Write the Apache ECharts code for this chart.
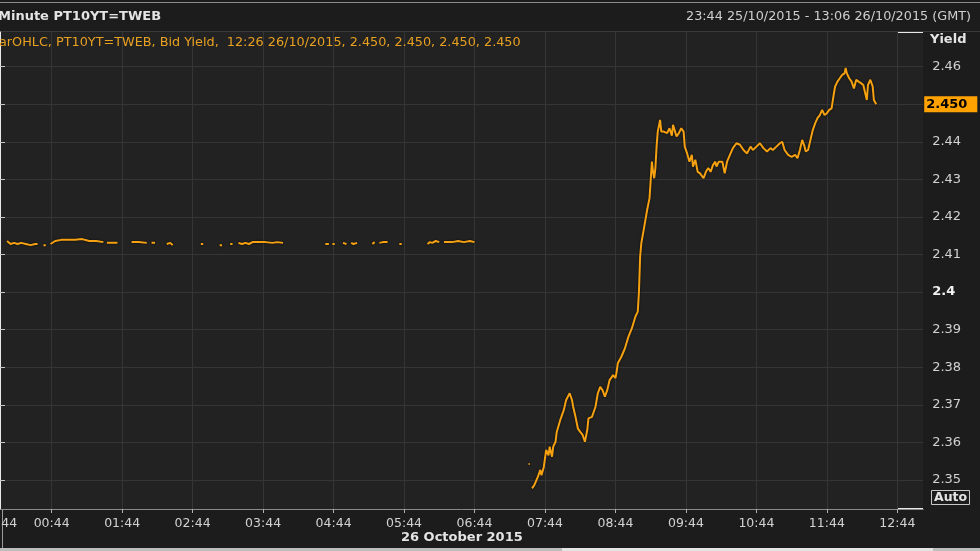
<!DOCTYPE html>
<html><head><meta charset="utf-8">
<script src="https://cdn.jsdelivr.net/npm/echarts@6/dist/echarts.min.js"></script>
<style>html,body{margin:0;padding:0;background:#1c1c1c;}#c{width:980px;height:551px;}</style>
</head><body><div id="c"></div>
<script>
// ---- data (GMT, 25/10/2015 23:44 -> 26/10/2015 13:06) ----
const rangeStart = '23:44';
const rangeEnd = '13:06';
const lastTime = '12:26';
const lastValue = 2.450;

// overnight sparse prints (null = no trades)
const overnightTimes = ['00:06','00:09','00:12','00:15','00:18','00:22','00:26','00:30','00:32','00:34','00:37','00:39','00:41',
 '00:43','00:47','00:52','00:58','01:04','01:10','01:16','01:22','01:28','01:29','01:31','01:35','01:40','01:46',
 '01:52','01:58','02:05','02:07','02:09','02:12','02:17','02:22','02:25','02:27','02:40','02:51','02:53','03:00',
 '03:07','03:09','03:12','03:16','03:18','03:20','03:23','03:26','03:29','03:32','03:35','03:40','03:46','03:52','03:56','04:01','04:20',
 '04:37','04:40','04:41','04:43','04:45','04:48','04:52','04:55','04:57','04:59','05:01','05:04','05:10',
 '05:17','05:19','05:21','05:23','05:26','05:30','05:35','05:40','05:42','05:52',
 '06:04','06:06','06:08','06:11','06:14','06:16','06:18','06:21','06:25','06:30','06:35','06:40','06:44','07:00',
 '07:30','07:31','07:32'];
const overnightYields = [2.4136,2.4128,2.4131,2.4128,2.4131,2.4128,2.4125,2.4128,2.4128,null,2.4125,2.4125,null,
 2.4128,2.4136,2.4139,2.4139,2.4139,2.4141,2.4136,2.4136,2.4133,null,2.4131,2.4131,2.4131,null,
 2.4133,2.4133,2.4131,null,2.4131,2.4131,null,2.4128,2.4131,2.4125,null,2.4128,2.4128,null,
 2.4125,2.4125,null,2.4128,2.4128,null,2.4131,2.4128,2.4131,2.4128,2.4133,2.4133,2.4133,2.4131,2.4133,2.4131,null,
 2.4128,2.4128,null,2.4128,2.4128,null,2.4131,2.4128,null,2.4131,2.4128,2.4131,null,
 2.4128,2.4133,null,2.4131,2.4133,2.4133,null,2.4128,2.4128,null,
 2.4128,2.4133,2.4131,2.4136,2.4133,null,2.4133,2.4133,2.4133,2.4136,2.4133,2.4136,2.4133,null,
 2.3543,2.3543,null];

// European session
const sessionTimes = ['07:33','07:35','07:38','07:40','07:41','07:43','07:45','07:47','07:48','07:50','07:51','07:53','07:54','07:57',
 '08:00','08:02','08:05','08:07','08:08','08:10','08:12','08:14','08:16','08:18','08:20','08:21','08:24','08:25','08:27','08:29',
 '08:31','08:33','08:35','08:37','08:39','08:42','08:44','08:45','08:46','08:49','08:52','08:55','08:58',
 '09:01','09:03','09:04','09:05','09:06','09:08','09:11','09:13','09:14','09:15','09:16','09:17','09:18','09:19','09:20','09:22','09:23',
 '09:25','09:28','09:30','09:32','09:33','09:36','09:38','09:40','09:42','09:43','09:45','09:47','09:49','09:50','09:52','09:54','09:56','09:59',
 '10:01','10:03','10:05','10:07','10:09','10:10','10:12','10:15','10:17','10:19','10:22','10:24','10:27','10:30','10:33','10:36','10:39',
 '10:41','10:44','10:47','10:50','10:53','10:56','10:58','11:01','11:04','11:06','11:08','11:11','11:14','11:17','11:19','11:21','11:23',
 '11:25','11:26','11:28','11:30','11:32','11:34','11:36','11:38','11:40','11:42','11:44','11:46','11:48','11:50','11:51','11:53','11:55',
 '11:57','11:59','12:00','12:01','12:03','12:05','12:07','12:09','12:11','12:13','12:15','12:16','12:18','12:19','12:21','12:23','12:24','12:26'];
const sessionYields = [2.3478,2.3487,2.3509,2.3527,2.3513,2.3535,2.3580,2.3566,2.3589,2.3562,2.3589,2.3602,2.3628,2.3660,
 2.3686,2.3713,2.3731,2.3713,2.3695,2.3668,2.3637,2.3628,2.3620,2.3602,2.3633,2.3664,2.3668,2.3677,2.3695,2.3731,
 2.3748,2.3739,2.3722,2.3739,2.3766,2.3779,2.3771,2.3788,2.3811,2.3828,2.3850,2.3881,2.3904,
 2.3935,2.3948,2.4001,2.4094,2.4130,2.4165,2.4219,2.4250,2.4298,2.4347,2.4320,2.4303,2.4330,2.4387,2.4427,2.4458,2.4427,
 2.4427,2.4423,2.4436,2.4416,2.4445,2.4414,2.4423,2.4436,2.4427,2.4387,2.4369,2.4347,2.4365,2.4334,2.4352,2.4320,2.4316,2.4303,
 2.4320,2.4330,2.4320,2.4338,2.4347,2.4334,2.4347,2.4347,2.4316,2.4347,2.4369,2.4383,2.4396,2.4392,2.4378,2.4369,2.4387,
 2.4378,2.4387,2.4396,2.4383,2.4374,2.4383,2.4378,2.4387,2.4396,2.4400,2.4378,2.4365,2.4360,2.4365,2.4356,2.4378,2.4405,
 2.4387,2.4374,2.4378,2.4405,2.4431,2.4449,2.4463,2.4471,2.4485,2.4471,2.4476,2.4485,2.4489,2.4529,2.4547,2.4560,2.4569,
 2.4578,2.4582,2.4596,2.4582,2.4569,2.4560,2.4542,2.4565,2.4560,2.4556,2.4551,2.4556,2.4511,2.4551,2.4565,2.4547,2.4511,2.4500];

const xTickLabels = ['23:44','00:44','01:44','02:44','03:44','04:44','05:44','06:44','07:44','08:44','09:44','10:44','11:44','12:44'];
const yTickValues = [2.35,2.36,2.37,2.38,2.39,2.40,2.41,2.42,2.43,2.44,2.45,2.46];
const yTickLabelValues = [2.35,2.36,2.37,2.38,2.39,2.40,2.41,2.42,2.43,2.44,2.46];
const yMin = 2.3423, yMax = 2.4692;

// ---- helpers ----
function toMin(s){ const p = s.split(':').map(Number); let v = p[0]*60 + p[1]; if (v > 1000) v -= 1440; return v; }
function fmtMin(v){ const m = ((Math.round(v) % 1440) + 1440) % 1440; const h = Math.floor(m/60), mm = m % 60; return String(h).padStart(2,'0') + ':' + String(mm).padStart(2,'0'); }

const allTimes = overnightTimes.concat(sessionTimes);
const allYields = overnightYields.concat(sessionYields);
const seriesData = allTimes.map((t,i) => [toMin(t), allYields[i]]);
const xMin = toMin(rangeStart), xMax = toMin(rangeEnd);
const xTicks = xTickLabels.map(toMin);

const FONT = 'DejaVu Sans';
const legendText = 'arOHLC, PT10YT=TWEB, Bid Yield,  ' + lastTime + ' 26/10/2015, ' +
  [lastValue,lastValue,lastValue,lastValue].map(v => v.toFixed(3)).join(', ');

const chart = echarts.init(document.getElementById('c'), null, {renderer:'canvas'});
chart.setOption({
  backgroundColor: '#1c1c1c',
  animation: false,
  textStyle: {fontFamily: FONT},
  title: [
    {text: 'Minute PT10YT=TWEB', left: -2, top: 10, padding: 0,
     textStyle: {color:'#e4e4e4', fontSize: 13, fontWeight:'bold', fontFamily: FONT}},
    {text: rangeStart + ' 25/10/2015 - ' + rangeEnd + ' 26/10/2015 (GMT)', right: 9, top: 10, padding: 0,
     textStyle: {color:'#cfcfcf', fontSize: 12.8, fontWeight:'normal', fontFamily: FONT}},
    {text: legendText, left: -1, top: 36, padding: 0,
     textStyle: {color:'#e8a020', fontSize: 12.8, fontWeight:'normal', fontFamily: FONT}},
    {text: 'Yield', left: 930, top: 33, padding: 0,
     textStyle: {color:'#e4e4e4', fontSize: 13, fontWeight:'bold', fontFamily: FONT}},
    {text: 'Auto', left: 931, top: 490, padding: [1,3,1,3], borderColor:'#c8c8c8', borderWidth: 1,
     textStyle: {color:'#e4e4e4', fontSize: 12.5, fontWeight:'bold', fontFamily: FONT}},
    {text: '26 October 2015', left: 401, top: 531, padding: 0,
     textStyle: {color:'#e4e4e4', fontSize: 13, fontWeight:'bold', fontFamily: FONT}}
  ],
  grid: {left: -18.8, right: 56.8, top: 32, bottom: 42, show: true, backgroundColor: '#222222', borderWidth: 0,
         containLabel: false, outerBoundsMode: 'none'},
  xAxis: {
    type: 'value', min: xMin, max: xMax,
    axisLine: {show: true, onZero: false, lineStyle: {color: '#8a8a8a', width: 1}},
    axisTick: {show: true, customValues: xTicks, length: 4, lineStyle: {color: '#b0b0b0'}},
    axisLabel: {
      customValues: xTicks, color: '#d2d2d2', fontSize: 12.5, margin: 8, fontFamily: FONT,
      formatter: v => (Math.round(v) === xMin ? '{f|' + fmtMin(v) + '}' : fmtMin(v)),
      rich: {f: {color: '#d2d2d2', fontSize: 12.5, fontFamily: FONT, padding: [0,0,0,36]}}
    },
    splitLine: {show: true, lineStyle: {color: '#353535', width: 1}}
  },
  yAxis: {
    type: 'value', position: 'right', min: yMin, max: yMax, scale: true,
    axisLine: {show: true, lineStyle: {color: '#e8e8e8', width: 1}},
    axisTick: {show: true, customValues: yTickValues, length: 5, lineStyle: {color: '#c8c8c8'}},
    axisLabel: {
      customValues: yTickLabelValues, color: '#d2d2d2', fontSize: 13, margin: 9, fontFamily: FONT,
      formatter: v => (Math.abs(v - 2.4) < 1e-9 ? '{b|2.4}' : v.toFixed(2)),
      rich: {b: {color: '#f0f0f0', fontSize: 13, fontWeight: 'bold', fontFamily: FONT}}
    },
    splitLine: {show: true, lineStyle: {color: '#353535', width: 1}}
  },
  series: [{
    type: 'line', data: seriesData, showSymbol: false, symbol: 'none', connectNulls: false,
    lineStyle: {color: '#f5a112', width: 2, shadowColor: 'rgba(0,0,0,0.9)', shadowBlur: 2},
    markLine: {
      silent: true, symbol: ['none','none'], animation: false,
      lineStyle: {color: 'transparent', width: 0},
      data: [{yAxis: lastValue}],
      label: {show: true, position: 'end', distance: 1, formatter: () => lastValue.toFixed(3),
        backgroundColor: '#ffa200', color: '#000', fontSize: 13, fontWeight: 'bold', fontFamily: FONT,
        padding: [2, 10, 1, 2]}
    }
  }],
  graphic: [
    {type: 'rect', shape: {x: 0, y: 2, width: 980, height: 1}, style: {fill: '#8a8a8a'}, silent: true},
    {type: 'rect', shape: {x: 0, y: 31, width: 980, height: 1}, style: {fill: '#3a3a3a'}, silent: true},
    {type: 'line', shape: {x1: 897, y1: 32.5, x2: 923, y2: 32.5}, style: {stroke: '#e8e8e8', lineWidth: 1}, silent: true},
    {type: 'line', shape: {x1: 897, y1: 508.5, x2: 923, y2: 508.5}, style: {stroke: '#e8e8e8', lineWidth: 1}, silent: true},
    {type: 'line', shape: {x1: 2.5, y1: 509, x2: 2.5, y2: 548}, style: {stroke: '#9a9a9a', lineWidth: 1}, silent: true},
    {type: 'rect', shape: {x: 0, y: 548, width: 980, height: 3}, style: {fill: '#bdbdbd'}, silent: true},
    {type: 'rect', shape: {x: 562, y: 548, width: 371, height: 3}, style: {fill: '#e4e4e4'}, silent: true}
  ]
});
</script>
</body></html>
